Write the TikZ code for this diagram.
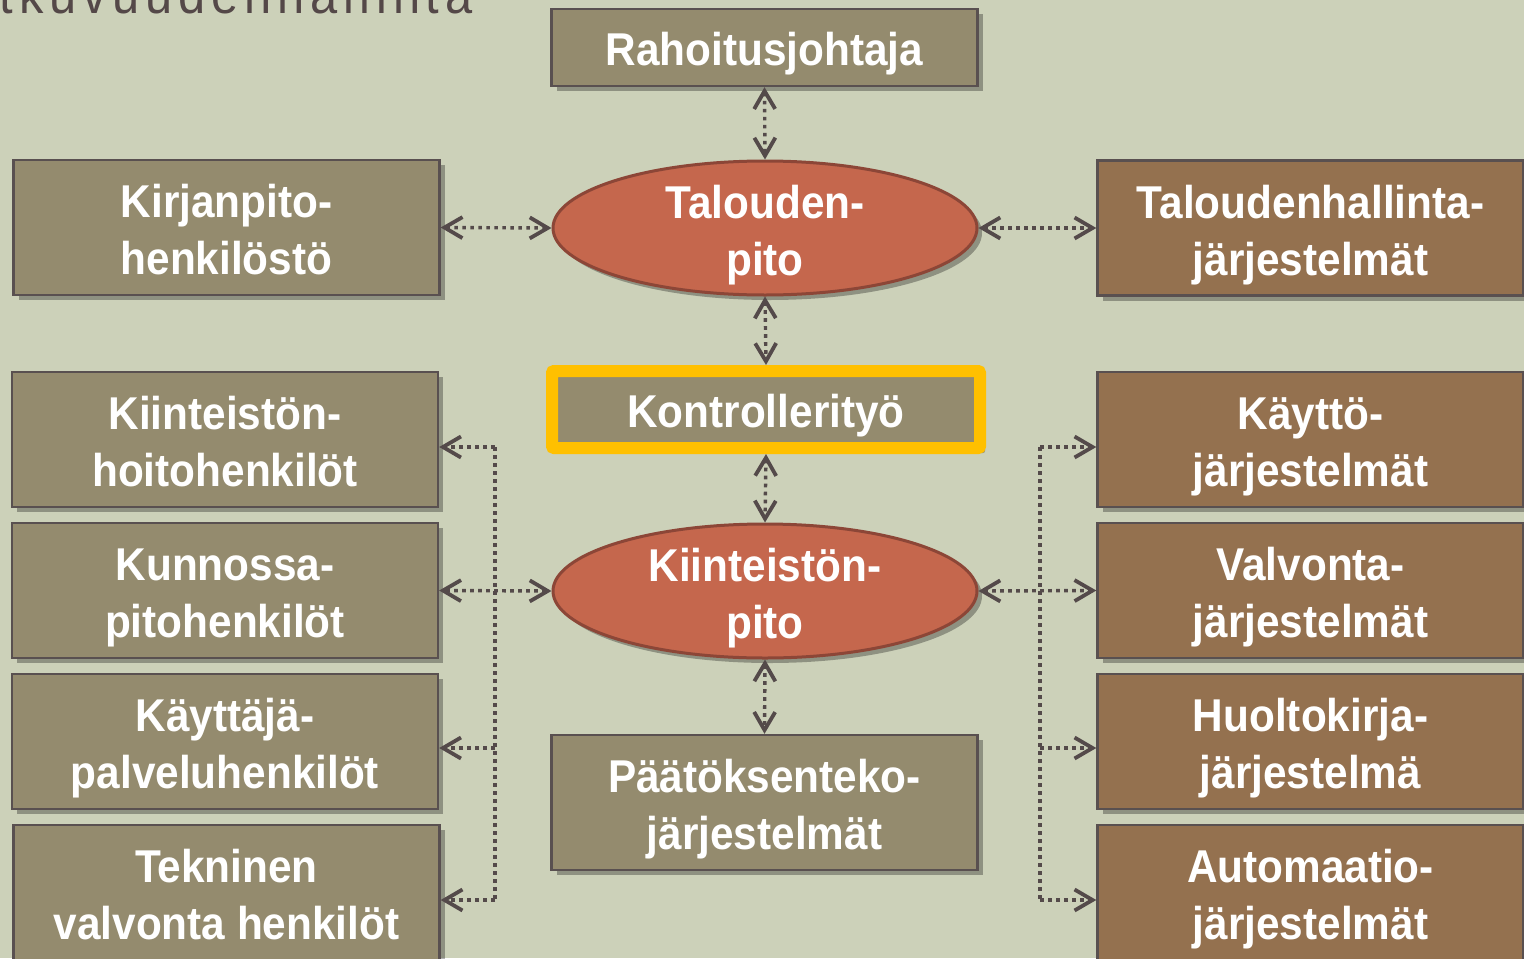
\documentclass[tikz,border=0pt]{standalone}
\usepackage{fontspec}
\setmainfont{Liberation Sans}[FakeStretch=0.92]
\usetikzlibrary{shadows,arrows.meta,shapes.geometric}
\definecolor{bgc}{RGB}{204,209,185}
\definecolor{olivec}{RGB}{148,139,110}
\definecolor{brownc}{RGB}{148,113,79}
\definecolor{ellc}{RGB}{197,103,77}
\definecolor{ellb}{RGB}{140,70,55}
\definecolor{bordc}{RGB}{89,80,80}
\definecolor{arrc}{RGB}{84,74,74}
\definecolor{titlec}{RGB}{84,72,72}
\definecolor{yelc}{RGB}{255,192,0}
\tikzset{
  shad/.style={drop shadow={shadow xshift=2.5pt,shadow yshift=-2.5pt,opacity=0.3,fill=black}},
  lbl/.style={text=white,font=\fontsize{23}{28.5}\selectfont\bfseries,align=center,inner sep=0pt,text height=47pt,text depth=0pt},
  one/.style={text height=17.5pt,text depth=0pt},
  obox/.style={lbl,shad,draw=bordc,line width=1.2pt,fill=olivec,minimum width=213pt,minimum height=67.5pt},
  bbox/.style={obox,fill=brownc},
  ell/.style={lbl,shad,ellipse,draw=ellb,line width=1.5pt,fill=ellc,minimum width=212pt,minimum height=67pt},
  tipb/.tip={Straight Barb[length=9pt,width=10.5pt,line width=1.9pt]},
  conn/.style={draw=arrc,line width=1.7pt,dash pattern=on 1.8pt off 2.2pt,arrows={tipb-tipb}},
  conr/.style={draw=arrc,line width=1.7pt,dash pattern=on 1.8pt off 2.2pt,arrows={-tipb}},
  bus/.style={draw=arrc,line width=1.7pt,dash pattern=on 1.8pt off 2.2pt},
}
\begin{document}
\begin{tikzpicture}[x=0.5pt,y=-0.5pt]
\fill[bgc] (0,0) rectangle (1524,958);
\useasboundingbox (0,0) rectangle (1524,958);
\node[anchor=base east,text=titlec,inner sep=0pt,font=\fontsize{26.5}{30}\selectfont\addfontfeature{LetterSpace=11}] (title) at (473,13) {Jatkuvuudenhallinta};
% top
\node[obox,one,minimum height=38.5pt] (rah) at (764.5,47.5) {Rahoitusjohtaja};
\node[obox] (kirj) at (226.5,227.5) {Kirjanpito-\\henkilöstö};
\node[ell] (tal) at (765,228) {Talouden-\\pito};
\node[bbox] (talh) at (1310.5,228) {Taloudenhallinta-\\järjestelmät};
% middle
\node[lbl,one,shad,draw=yelc,line width=6pt,fill=olivec,minimum width=214pt,minimum height=38.5pt,rounded corners=1pt] (kont) at (766,409.5) {Kontrollerityö};
\node[ell] (kii) at (765,591) {Kiinteistön-\\pito};
\node[obox] (paat) at (764.5,802.5) {Päätöksenteko-\\järjestelmät};
% left column
\node[obox] (hoito) at (225,439.5) {Kiinteistön-\\hoitohenkilöt};
\node[obox] (kunn) at (225,590.5) {Kunnossa-\\pitohenkilöt};
\node[obox] (kayt) at (225,741.5) {Käyttäjä-\\palveluhenkilöt};
\node[obox] (tekn) at (226.5,892.5) {Tekninen\\valvonta henkilöt};
% right column
\node[bbox] (kj) at (1310.5,439.5) {Käyttö-\\järjestelmät};
\node[bbox] (vj) at (1310.5,590.5) {Valvonta-\\järjestelmät};
\node[bbox] (hj) at (1310.5,741.5) {Huoltokirja-\\järjestelmä};
\node[bbox] (aj) at (1310.5,892.5) {Automaatio-\\järjestelmät};
% connectors
\draw[conn] (rah.south) -- (tal.north);
\draw[conn] (kirj.east) -- (tal.west);
\draw[conn] (tal.east) -- (talh.west);
\draw[conn] (tal.south) -- (kont.north);
\draw[conn] (kont.south) -- (kii.north);
\draw[conn] (kii.south) -- (paat.north);
\draw[conn] (kii.west) -- (kunn.east);
\draw[conn] (kii.east) -- (vj.west);
% left bus
\coordinate (l1) at (495,447);
\coordinate (l3) at (495,748);
\coordinate (l4) at (495,900);
\draw[bus] (l1) -- (l4);
\draw[conr] (l1) -- (hoito.east |- l1);
\draw[conr] (l3) -- (kayt.east |- l3);
\draw[conr] (l4) -- (tekn.east |- l4);
% right bus
\coordinate (r1) at (1040,447);
\coordinate (r3) at (1040,748);
\coordinate (r4) at (1040,900);
\draw[bus] (r1) -- (r4);
\draw[conr] (r1) -- (kj.west |- r1);
\draw[conr] (r3) -- (hj.west |- r3);
\draw[conr] (r4) -- (aj.west |- r4);
\end{tikzpicture}
\end{document}
